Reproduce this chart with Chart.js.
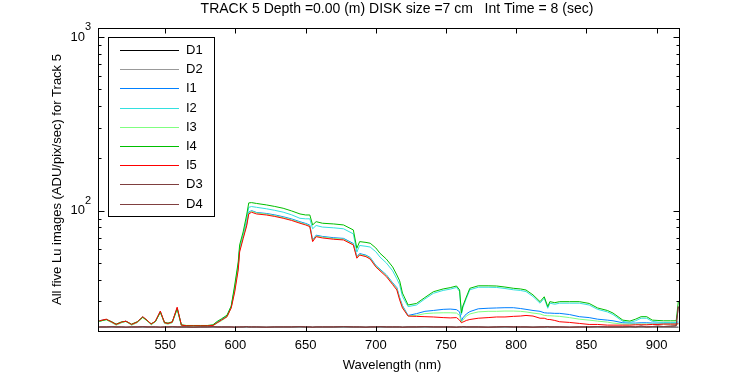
<!DOCTYPE html>
<html>
<head>
<meta charset="utf-8">
<script src="https://cdn.jsdelivr.net/npm/chart.js@4/dist/chart.umd.min.js"></script>
<style>
  body { margin: 0; background: #fff; }
</style>
</head>
<body>
<canvas id="c" width="750" height="375"></canvas>
<script>
// wavelength grid (nm)
const wavelength = [503, 508, 512, 515, 519, 522, 526, 530, 534, 537,
  540, 543, 546.5, 549.5, 552, 555, 558.5, 561.5, 565, 570,
  575, 580, 584, 587, 590, 594, 597, 599.5, 602, 603,
  605.5, 608, 609.5, 611.5, 615, 622, 628, 634, 640, 646,
  650, 653, 655, 657.5, 662, 670, 677, 684, 686.5, 688.5,
  693, 696, 700, 703, 707.5, 712, 715, 717, 719, 723,
  729, 735, 741, 748, 753, 757.5, 759.7, 761, 762, 764.5,
  767, 773, 780, 786, 792, 798, 803, 807, 812, 817,
  820, 822.5, 824, 827.5, 831, 838, 845, 852, 858, 865,
  869, 876, 881, 885, 889, 893, 897, 901, 905, 910,
  914, 915.5];

const d1 = [21.3, 21.3, 21.3, 21.3, 21.3, 21.3, 21.3, 21.3, 21.3, 21.3,
  21.3, 21.3, 21.3, 21.3, 21.3, 21.3, 21.3, 21.3, 21.3, 21.3,
  21.3, 21.3, 21.3, 21.3, 21.3, 21.3, 21.3, 21.3, 21.3, 21.3,
  21.3, 21.3, 21.3, 21.3, 21.3, 21.3, 21.3, 21.3, 21.3, 21.3,
  21.3, 21.3, 21.3, 21.3, 21.3, 21.3, 21.3, 21.3, 21.3, 21.3,
  21.3, 21.3, 21.3, 21.3, 21.3, 21.3, 21.3, 21.3, 21.3, 21.3,
  21.3, 21.3, 21.3, 21.3, 21.3, 21.3, 21.3, 21.3, 21.3, 21.3,
  21.3, 21.3, 21.3, 21.3, 21.3, 21.3, 21.3, 21.3, 21.3, 21.3,
  21.3, 21.3, 21.3, 21.3, 21.3, 21.3, 21.3, 21.3, 21.3, 21.3,
  21.3, 21.3, 21.3, 21.3, 21.3, 21.3, 21.3, 21.3, 21.3, 21.3,
  21.3, 21.3];
const d2 = d1.slice();

const i1 = [23.2, 23.6, 22.7, 22.0, 22.7, 23.1, 22.0, 22.7, 24.4, 23.3,
  22.1, 23.0, 26.2, 22.5, 22.3, 22.7, 27.4, 21.8, 21.6, 21.6,
  21.6, 21.6, 21.8, 22.7, 23.5, 24.7, 28.0, 35.5, 48.0, 60.0,
  71.0, 84.0, 98.0, 100.0, 97.6, 96.3, 94.5, 92.2, 89.6, 86.3,
  84.4, 82.5, 67.6, 72.2, 71.0, 69.8, 69.2, 64.7, 54.3, 56.6,
  55.4, 53.7, 48.4, 46.0, 42.7, 38.4, 36.0, 31.5, 28.4, 24.9,
  25.5, 26.3, 26.6, 27.0, 27.1, 26.9, 26.1, 23.1, 24.1, 25.4,
  26.2, 27.2, 27.4, 27.5, 27.6, 27.6, 27.3, 27.0, 26.6, 26.3,
  25.8, 25.7, 25.7, 25.6, 25.6, 25.2, 24.5, 24.2, 23.7, 23.4,
  23.2, 22.6, 22.5, 22.5, 22.6, 22.6, 22.5, 22.5, 22.5, 22.5,
  22.5, 22.6];

const i2 = [23.1, 23.6, 22.8, 22.1, 22.8, 23.0, 22.1, 22.8, 24.4, 23.3,
  22.2, 23.0, 26.2, 22.6, 22.4, 22.8, 27.5, 21.9, 21.7, 21.7,
  21.7, 21.7, 21.9, 22.8, 23.6, 24.8, 28.0, 36.0, 49.0, 61.0,
  72.0, 89.5, 104.5, 105.6, 104.5, 102.5, 100.4, 98.0, 94.6, 90.3,
  89.7, 89.7, 78.6, 82.1, 80.4, 79.6, 78.6, 73.5, 57.7, 63.0,
  62.3, 61.7, 58.0, 54.0, 50.0, 45.0, 40.5, 37.4, 32.0, 28.0,
  28.6, 31.0, 33.4, 34.7, 35.3, 36.1, 34.2, 25.2, 27.6, 31.2,
  35.0, 36.2, 36.2, 36.1, 35.6, 35.0, 34.7, 34.2, 32.0, 29.3,
  31.3, 27.4, 29.3, 28.9, 29.3, 29.3, 29.3, 28.6, 27.0, 26.1,
  25.2, 23.0, 22.7, 23.2, 24.0, 24.0, 23.0, 22.8, 22.7, 22.7,
  22.7, 23.0];

const i3 = [23.1, 23.5, 22.6, 21.9, 22.6, 23.0, 21.9, 22.6, 24.2, 23.2,
  22.0, 22.9, 25.9, 22.4, 22.2, 22.6, 27.0, 21.7, 21.6, 21.6,
  21.6, 21.6, 21.7, 22.5, 23.2, 24.4, 27.6, 34.8, 47.0, 59.0,
  70.0, 83.0, 97.0, 99.2, 97.0, 95.5, 93.6, 91.3, 88.7, 85.5,
  83.5, 81.7, 67.0, 71.5, 70.4, 69.1, 68.5, 64.0, 53.8, 56.0,
  54.9, 53.2, 48.0, 45.6, 42.3, 38.0, 35.6, 31.2, 28.0, 24.7,
  24.9, 25.5, 25.7, 25.8, 25.8, 25.7, 24.9, 22.7, 23.4, 24.7,
  25.4, 26.1, 26.3, 26.3, 26.4, 26.4, 26.3, 26.1, 25.7, 25.4,
  24.9, 24.8, 24.8, 24.7, 24.6, 24.2, 23.7, 23.4, 23.1, 22.8,
  22.5, 22.2, 22.2, 22.2, 22.2, 22.2, 22.2, 22.2, 22.2, 22.2,
  22.2, 22.3];

const i4 = [23.0, 23.6, 22.9, 22.2, 22.9, 23.0, 22.2, 22.9, 24.3, 23.3,
  22.3, 23.0, 26.0, 22.7, 22.5, 22.9, 27.2, 22.0, 21.8, 21.8,
  21.8, 21.8, 22.0, 23.0, 23.8, 25.0, 28.2, 37.3, 50.6, 63.4,
  75.4, 94.4, 110.8, 111.2, 110.0, 107.9, 105.7, 103.2, 99.6, 95.7,
  94.4, 94.4, 82.7, 86.4, 84.6, 83.8, 82.7, 77.4, 60.7, 66.3,
  65.6, 64.9, 61.0, 56.8, 52.6, 47.4, 42.6, 39.4, 33.5, 28.6,
  29.2, 31.6, 34.1, 35.4, 36.0, 36.8, 34.9, 25.7, 28.2, 31.8,
  35.7, 36.9, 36.9, 36.8, 36.3, 35.7, 35.4, 34.9, 32.7, 29.9,
  31.9, 28.0, 29.9, 29.5, 29.9, 29.9, 29.9, 29.2, 27.5, 26.6,
  25.7, 23.4, 23.1, 23.7, 24.5, 24.5, 23.4, 23.3, 23.2, 23.2,
  23.2, 29.9];

const i5 = [23.2, 23.7, 22.8, 22.1, 22.8, 23.1, 22.1, 22.8, 24.5, 23.4,
  22.2, 23.1, 26.4, 22.6, 22.4, 22.8, 27.8, 21.9, 21.7, 21.7,
  21.7, 21.7, 21.8, 22.6, 23.4, 24.5, 27.5, 34.0, 45.5, 57.8,
  69.0, 81.6, 95.7, 97.9, 95.7, 94.4, 92.6, 90.4, 87.8, 84.6,
  82.7, 80.9, 66.3, 70.8, 69.6, 68.4, 67.8, 63.4, 53.2, 55.5,
  54.3, 52.6, 47.4, 45.0, 41.7, 37.5, 34.9, 30.6, 27.5, 24.7,
  24.6, 24.5, 24.4, 24.2, 24.1, 24.2, 23.4, 22.6, 22.8, 23.3,
  23.6, 24.0, 24.2, 24.4, 24.4, 24.6, 24.7, 24.9, 24.7, 24.0,
  24.0, 23.6, 23.6, 23.3, 22.9, 22.7, 22.4, 22.1, 22.1, 21.9,
  21.9, 21.9, 21.9, 22.0, 22.0, 22.0, 22.1, 22.1, 22.2, 22.2,
  22.2, 22.3];

const d3 = [21.4, 21.4, 21.5, 21.4, 21.4, 21.3, 21.4, 21.4, 21.5, 21.4,
  21.4, 21.4, 21.3, 21.4, 21.4, 21.5, 21.4, 21.4, 21.4, 21.3,
  21.4, 21.4, 21.5, 21.4, 21.4, 21.4, 21.4, 21.3, 21.4, 21.4,
  21.4, 21.5, 21.4, 21.4, 21.4, 21.3, 21.4, 21.4, 21.4, 21.5,
  21.4, 21.4, 21.3, 21.4, 21.4, 21.4, 21.5, 21.4, 21.4, 21.4,
  21.3, 21.4, 21.4, 21.5, 21.4, 21.4, 21.4, 21.4, 21.3, 21.4,
  21.4, 21.5, 21.4, 21.4, 21.4, 21.3, 21.4, 21.4, 21.5, 21.4,
  21.4, 21.4, 21.3, 21.4, 21.5, 21.4, 21.4, 21.4, 21.3, 21.4,
  21.4, 21.5, 21.4, 21.4, 21.4, 21.3, 21.4, 21.4, 21.5, 21.4,
  21.4, 21.4, 21.5, 21.4, 21.6, 21.4, 21.5, 21.6, 21.5, 21.6,
  21.7, 28.0];
const d4 = d3.slice();

const seriesNames = ["D1", "D2", "I1", "I2", "I3", "I4", "I5", "D3", "D4"];
const seriesColors = ["#000000", "#999999", "#0080ff", "#33e0e0", "#80ff80", "#00bf00", "#ff0000", "#7f3f3f", "#804040"];
const seriesValues = [d1, d2, i1, i2, i3, i4, i5, d3, d4];

const xTicks = [550, 600, 650, 700, 750, 800, 850, 900];
const yMajor = [100, 1000];
const yMinor = [30, 40, 50, 60, 70, 80, 90, 200, 300, 400, 500, 600, 700, 800, 900];
const xMin = 502.1, xMax = 916;
const yMin = 20.26, yMax = 1127;

const FONT = '"Liberation Sans", Arial, sans-serif';

const decorations = {
  id: 'decorations',
  beforeDraw(chart) {
    const ctx = chart.ctx;
    ctx.save();
    ctx.fillStyle = '#fff';
    ctx.fillRect(0, 0, chart.width, chart.height);
    ctx.restore();
  },
  afterDraw(chart) {
    const ctx = chart.ctx;
    const a = chart.chartArea;
    const xs = chart.scales.x, ys = chart.scales.y;
    ctx.save();
    ctx.strokeStyle = '#000';
    ctx.lineWidth = 1;
    const L = Math.round(a.left) + 0.5, R = Math.round(a.right) + 0.5;
    const T = Math.round(a.top) + 0.5, B = Math.round(a.bottom) + 0.5;
    ctx.strokeRect(L, T, R - L, B - T);

    // x ticks, inward on bottom and top
    ctx.beginPath();
    xTicks.forEach(v => {
      const px = Math.round(xs.getPixelForValue(v)) + 0.5;
      ctx.moveTo(px, B); ctx.lineTo(px, B - 5);
      ctx.moveTo(px, T); ctx.lineTo(px, T + 5);
    });
    // y ticks, inward on left and right
    const yTick = (v, len) => {
      const py = Math.round(ys.getPixelForValue(v)) + 0.5;
      ctx.moveTo(L, py); ctx.lineTo(L + len, py);
      ctx.moveTo(R, py); ctx.lineTo(R - len, py);
    };
    yMajor.forEach(v => yTick(v, 6));
    yMinor.forEach(v => yTick(v, 3));
    ctx.stroke();

    ctx.fillStyle = '#000';
    ctx.font = '13px ' + FONT;
    ctx.textAlign = 'center';
    ctx.textBaseline = 'middle';
    xTicks.forEach(v => ctx.fillText(String(v), xs.getPixelForValue(v), 345));

    // y labels as 10 with exponent
    yMajor.forEach(v => {
      const py = ys.getPixelForValue(v);
      ctx.font = '13px ' + FONT;
      ctx.textAlign = 'right';
      ctx.fillText('10', 85, py);
      ctx.font = '11px ' + FONT;
      ctx.textAlign = 'left';
      ctx.fillText(String(Math.round(Math.log10(v))), 85, py - 10);
    });

    // title and axis titles
    ctx.font = '14px ' + FONT;
    ctx.textAlign = 'center';
    ctx.fillText('TRACK 5 Depth =0.00 (m) DISK size =7 cm   Int Time = 8 (sec)', 397, 9);
    ctx.font = '13px ' + FONT;
    ctx.fillText('Wavelength (nm)', 392, 365);
    ctx.save();
    ctx.translate(57, (a.top + a.bottom) / 2);
    ctx.rotate(-Math.PI / 2);
    ctx.fillText('All five Lu images (ADU/pix/sec) for Track 5', 0, 0);
    ctx.restore();

    // legend box inside the axes
    const bx = 108.5, by = 37.5, bw = 106, bh = 179;
    ctx.fillStyle = '#fff';
    ctx.fillRect(bx, by, bw, bh);
    ctx.strokeStyle = '#000';
    ctx.strokeRect(bx, by, bw, bh);
    ctx.font = '13px ' + FONT;
    ctx.textAlign = 'left';
    seriesNames.forEach((name, i) => {
      const ry = Math.round(50 + i * 19.2) + 0.5;
      ctx.strokeStyle = seriesColors[i];
      ctx.beginPath();
      ctx.moveTo(120, ry); ctx.lineTo(179, ry);
      ctx.stroke();
      ctx.fillStyle = '#000';
      ctx.fillText(name, 186, ry);
    });
    ctx.restore();
  }
};

new Chart(document.getElementById('c'), {
  type: 'line',
  data: {
    datasets: seriesNames.map((name, k) => ({
      label: name,
      data: wavelength.map((w, j) => ({ x: w, y: seriesValues[k][j] })),
      borderColor: seriesColors[k],
      borderWidth: 1,
      pointRadius: 0,
      tension: 0,
      fill: false,
      order: -k
    }))
  },
  options: {
    responsive: false,
    animation: false,
    layout: { padding: { left: 98, top: 28, right: 71, bottom: 44 } },
    scales: {
      x: { type: 'linear', min: xMin, max: xMax, display: false },
      y: { type: 'logarithmic', min: yMin, max: yMax, display: false }
    },
    plugins: { legend: { display: false }, tooltip: { enabled: false } }
  },
  plugins: [decorations]
});
</script>
</body>
</html>
